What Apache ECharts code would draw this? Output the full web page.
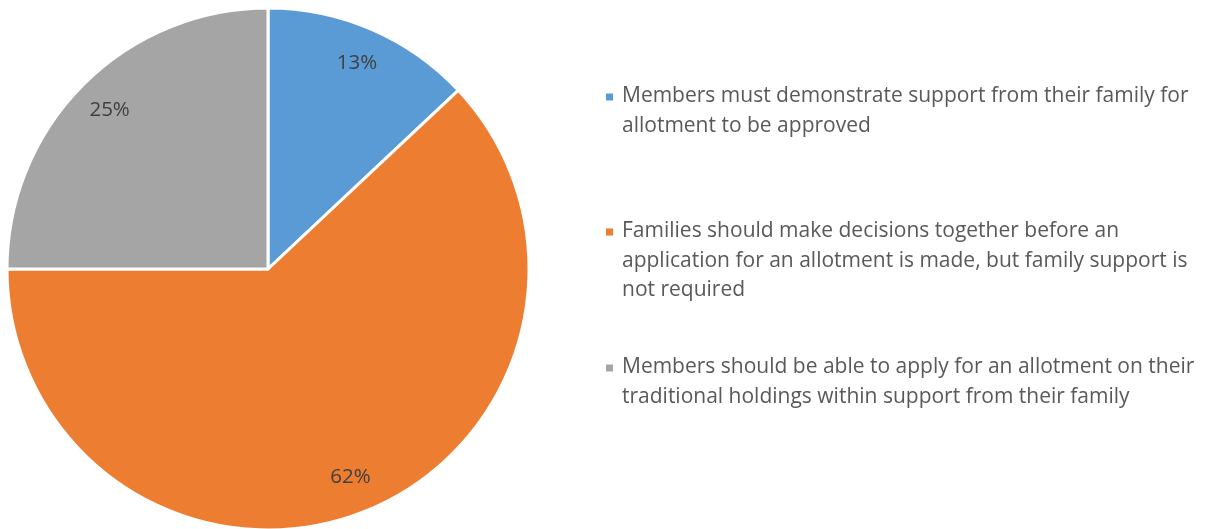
<!DOCTYPE html>
<html><head><meta charset="utf-8">
<script src="https://cdn.jsdelivr.net/npm/echarts@6/dist/echarts.min.js"></script>
<style>html,body{margin:0;padding:0;background:#fff}#c{width:1209px;height:529px}</style>
</head><body><div id="c"></div>
<script>
const categories = [
  'Members must demonstrate support from their family for allotment to be approved',
  'Families should make decisions together before an application for an allotment is made, but family support is not required',
  'Members should be able to apply for an allotment on their traditional holdings within support from their family'
];
const legendLines = [
  ['Members must demonstrate support from their family for', 'allotment to be approved'],
  ['Families should make decisions together before an', 'application for an allotment is made, but family support is', 'not required'],
  ['Members should be able to apply for an allotment on their', 'traditional holdings within support from their family']
];
const values = [13, 62, 25];
const colors = ['#5B9BD5', '#ED7D31', '#A5A5A5'];

const LH = 29.7;
const firstLineY = [95, 230, 366];
const FONT = '"Open Sans", sans-serif';
const SQ = 9;
const IW = 12;

const data = categories.map((n, i) => ({ name: n, value: values[i], itemStyle: { color: colors[i] } }));

const legends = categories.map((n, i) => {
  const k = legendLines[i].length;
  const H = k * LH;
  const o = LH / 2 - SQ / 2 + 1;
  const icon = 'path://M0,' + o + 'h' + SQ + 'v' + SQ + 'h-' + SQ + 'z M' + (IW - 0.01) + ',' + (H - 0.01) + 'h0.01v0.01h-0.01z M0,0h0.01v0.01h-0.01z';
  return {
    data: [n],
    orient: 'vertical',
    left: 604,
    top: firstLineY[i] - LH / 2,
    padding: 0,
    itemWidth: IW,
    itemHeight: H,
    icon: icon,
    selectedMode: false,
    formatter: () => legendLines[i].join('\n'),
    textStyle: {
      fontFamily: FONT, fontSize: 21, color: '#595959',
      lineHeight: LH
    }
  };
});

const chart = echarts.init(document.getElementById('c'), null, { renderer: 'canvas' });
chart.setOption({
  animation: false,
  legend: legends,
  series: [
    {
      type: 'pie',
      center: [268, 269],
      radius: [0, 261],
      startAngle: 90,
      clockwise: true,
      data: data,
      itemStyle: { borderColor: '#ffffff', borderWidth: 3 },
      label: { show: false },
      labelLine: { show: false },
      emphasis: { disabled: true }
    },
    {
      type: 'pie',
      center: [268, 269],
      radius: [180, 262],
      startAngle: 90,
      clockwise: true,
      silent: true,
      legendHoverLink: false,
      data: values.map((v, i) => ({ name: categories[i], value: v, itemStyle: { color: 'rgba(0,0,0,0)' } })),
      itemStyle: { borderWidth: 0 },
      label: {
        show: true, position: 'inside', formatter: '{c}%',
        fontFamily: FONT, fontSize: 20.5, color: '#404040'
      },
      labelLine: { show: false },
      emphasis: { disabled: true }
    }
  ]
});
</script></body></html>
